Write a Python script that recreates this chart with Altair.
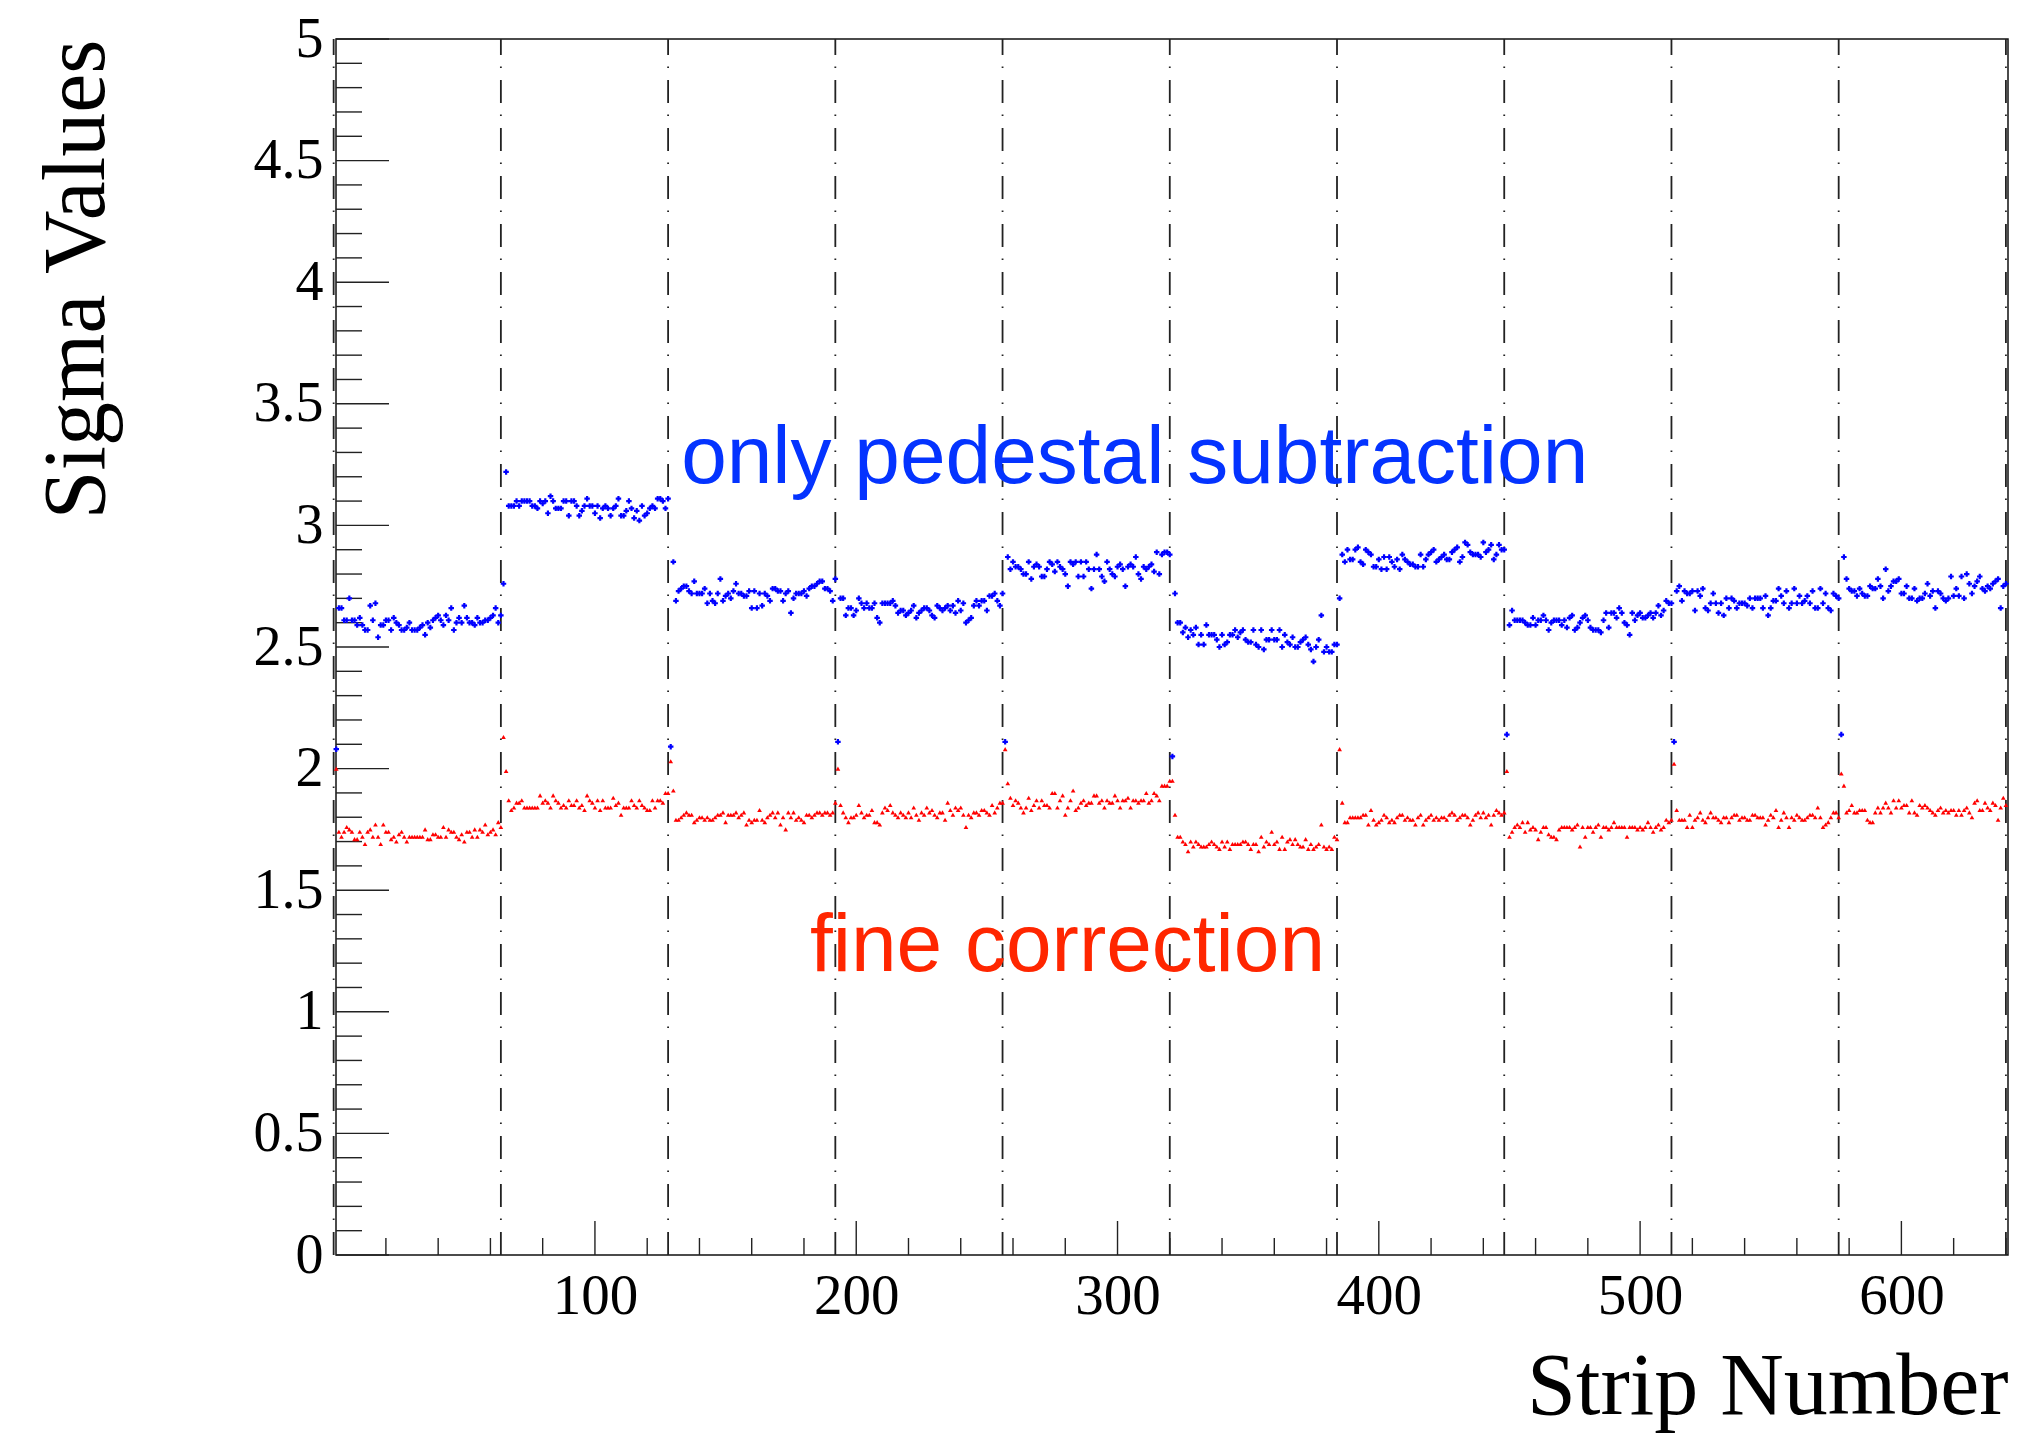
import altair as alt
import pandas as pd

# ---------------- data ----------------
# 10 chips x 64 strips; strip number = 64*chip + index + 1
blue_g1 = [2.08, 2.66, 2.66, 2.61, 2.61, 2.70, 2.61, 2.61,
           2.59, 2.62, 2.59, 2.57, 2.57, 2.67, 2.61, 2.68,
           2.54, 2.59, 2.59, 2.61, 2.61, 2.57, 2.62, 2.60,
           2.59, 2.57, 2.57, 2.58, 2.60, 2.57, 2.57, 2.57,
           2.58, 2.59, 2.55, 2.60, 2.58, 2.61, 2.62, 2.63,
           2.61, 2.59, 2.63, 2.61, 2.66, 2.57, 2.60, 2.62,
           2.60, 2.67, 2.62, 2.60, 2.60, 2.59, 2.62, 2.60,
           2.60, 2.61, 2.61, 2.62, 2.63, 2.66, 2.60, 2.63]
red_g1 = [2.00, 1.74, 1.72, 1.74, 1.76, 1.75, 1.74, 1.71,
          1.71, 1.74, 1.72, 1.69, 1.74, 1.75, 1.72, 1.77,
          1.72, 1.69, 1.77, 1.74, 1.74, 1.71, 1.72, 1.70,
          1.73, 1.74, 1.72, 1.70, 1.72, 1.72, 1.72, 1.72,
          1.72, 1.72, 1.75, 1.71, 1.71, 1.73, 1.73, 1.72,
          1.72, 1.76, 1.72, 1.75, 1.74, 1.74, 1.72, 1.71,
          1.73, 1.70, 1.74, 1.74, 1.72, 1.75, 1.72, 1.75,
          1.74, 1.77, 1.73, 1.74, 1.75, 1.73, 1.78, 1.76]
blue_g2 = [2.76, 3.22, 3.08, 3.08, 3.08, 3.10, 3.08, 3.10,
           3.10, 3.10, 3.10, 3.08, 3.08, 3.07, 3.10, 3.09,
           3.10, 3.05, 3.12, 3.10, 3.07, 3.07, 3.07, 3.10,
           3.10, 3.04, 3.10, 3.10, 3.08, 3.04, 3.06, 3.08,
           3.11, 3.08, 3.08, 3.05, 3.08, 3.03, 3.07, 3.08,
           3.07, 3.04, 3.07, 3.08, 3.11, 3.04, 3.04, 3.06,
           3.10, 3.07, 3.03, 3.06, 3.02, 3.08, 3.04, 3.05,
           3.07, 3.08, 3.07, 3.11, 3.11, 3.10, 3.07, 3.11]
red_g2 = [2.13, 1.99, 1.87, 1.83, 1.84, 1.86, 1.86, 1.87,
          1.84, 1.84, 1.84, 1.84, 1.84, 1.84, 1.89, 1.86,
          1.87, 1.86, 1.84, 1.89, 1.87, 1.86, 1.84, 1.85,
          1.84, 1.87, 1.85, 1.85, 1.87, 1.84, 1.85, 1.83,
          1.89, 1.87, 1.86, 1.84, 1.87, 1.83, 1.87, 1.84,
          1.84, 1.84, 1.88, 1.85, 1.86, 1.81, 1.84, 1.84,
          1.84, 1.87, 1.85, 1.84, 1.87, 1.85, 1.84, 1.83,
          1.83, 1.87, 1.84, 1.87, 1.87, 1.86, 1.90, 1.90]
blue_g3 = [2.09, 2.85, 2.69, 2.73, 2.74, 2.75, 2.75, 2.73,
           2.72, 2.77, 2.72, 2.72, 2.72, 2.74, 2.68, 2.72,
           2.69, 2.68, 2.72, 2.78, 2.69, 2.71, 2.72, 2.70,
           2.73, 2.76, 2.72, 2.72, 2.71, 2.71, 2.73, 2.66,
           2.73, 2.66, 2.72, 2.67, 2.72, 2.71, 2.69, 2.74,
           2.74, 2.73, 2.73, 2.69, 2.72, 2.73, 2.64, 2.70,
           2.72, 2.72, 2.72, 2.73, 2.71, 2.74, 2.75, 2.75,
           2.76, 2.77, 2.77, 2.74, 2.74, 2.73, 2.69, 2.78]
red_g3 = [2.03, 1.91, 1.79, 1.79, 1.80, 1.81, 1.82, 1.81,
          1.81, 1.78, 1.79, 1.80, 1.80, 1.79, 1.80, 1.79,
          1.79, 1.80, 1.81, 1.81, 1.82, 1.78, 1.81, 1.81,
          1.81, 1.82, 1.80, 1.81, 1.82, 1.77, 1.79, 1.78,
          1.79, 1.79, 1.83, 1.79, 1.78, 1.80, 1.81, 1.82,
          1.80, 1.82, 1.77, 1.80, 1.75, 1.82, 1.80, 1.82,
          1.79, 1.80, 1.79, 1.78, 1.81, 1.81, 1.80, 1.81,
          1.82, 1.82, 1.81, 1.82, 1.82, 1.81, 1.82, 1.86]
blue_g4 = [2.11, 2.70, 2.70, 2.63, 2.66, 2.66, 2.63, 2.65,
           2.70, 2.68, 2.66, 2.68, 2.66, 2.66, 2.68, 2.62,
           2.60, 2.68, 2.68, 2.68, 2.68, 2.69, 2.67, 2.64,
           2.65, 2.65, 2.63, 2.64, 2.65, 2.67, 2.62, 2.64,
           2.65, 2.66, 2.66, 2.65, 2.63, 2.62, 2.67, 2.66,
           2.65, 2.66, 2.67, 2.65, 2.67, 2.64, 2.69, 2.65,
           2.68, 2.60, 2.61, 2.62, 2.67, 2.69, 2.67, 2.69,
           2.69, 2.65, 2.71, 2.71, 2.72, 2.69, 2.67, 2.72]
red_g4 = [2.00, 1.85, 1.82, 1.80, 1.78, 1.80, 1.80, 1.81,
          1.85, 1.82, 1.80, 1.81, 1.81, 1.83, 1.78, 1.78,
          1.77, 1.82, 1.84, 1.83, 1.85, 1.82, 1.81, 1.80,
          1.82, 1.81, 1.80, 1.82, 1.80, 1.84, 1.81, 1.79,
          1.82, 1.81, 1.84, 1.82, 1.83, 1.81, 1.80, 1.82,
          1.82, 1.79, 1.86, 1.83, 1.81, 1.84, 1.83, 1.84,
          1.81, 1.76, 1.81, 1.80, 1.82, 1.82, 1.81, 1.83,
          1.83, 1.82, 1.81, 1.85, 1.82, 1.84, 1.86, 1.86]
blue_g5 = [2.11, 2.87, 2.82, 2.85, 2.83, 2.83, 2.82, 2.80,
           2.80, 2.85, 2.78, 2.83, 2.84, 2.83, 2.79, 2.79,
           2.82, 2.85, 2.84, 2.81, 2.85, 2.83, 2.82, 2.80,
           2.75, 2.85, 2.84, 2.85, 2.79, 2.85, 2.79, 2.85,
           2.82, 2.74, 2.82, 2.88, 2.82, 2.79, 2.77, 2.85,
           2.82, 2.80, 2.79, 2.83, 2.84, 2.82, 2.75, 2.83,
           2.84, 2.83, 2.87, 2.80, 2.78, 2.83, 2.82, 2.83,
           2.84, 2.81, 2.89, 2.80, 2.88, 2.89, 2.89, 2.88]
red_g5 = [2.08, 1.94, 1.88, 1.85, 1.87, 1.86, 1.84, 1.82,
          1.84, 1.88, 1.83, 1.85, 1.87, 1.84, 1.87, 1.85,
          1.85, 1.84, 1.90, 1.90, 1.84, 1.87, 1.89, 1.81,
          1.84, 1.87, 1.91, 1.83, 1.84, 1.86, 1.87, 1.85,
          1.86, 1.86, 1.89, 1.89, 1.86, 1.87, 1.84, 1.87,
          1.86, 1.86, 1.89, 1.87, 1.84, 1.87, 1.87, 1.88,
          1.84, 1.87, 1.87, 1.86, 1.87, 1.87, 1.90, 1.86,
          1.87, 1.90, 1.89, 1.87, 1.93, 1.93, 1.93, 1.95]
blue_g6 = [2.05, 2.72, 2.60, 2.60, 2.56, 2.58, 2.54, 2.57,
           2.55, 2.58, 2.51, 2.55, 2.51, 2.59, 2.55, 2.55,
           2.55, 2.53, 2.50, 2.55, 2.51, 2.52, 2.55, 2.55,
           2.57, 2.54, 2.56, 2.57, 2.53, 2.52, 2.52, 2.57,
           2.51, 2.50, 2.57, 2.49, 2.53, 2.53, 2.57, 2.53,
           2.53, 2.57, 2.50, 2.55, 2.52, 2.51, 2.54, 2.50,
           2.50, 2.52, 2.53, 2.54, 2.51, 2.49, 2.44, 2.50,
           2.53, 2.63, 2.48, 2.50, 2.48, 2.48, 2.51, 2.51]
red_g6 = [1.95, 1.81, 1.72, 1.72, 1.70, 1.69, 1.66, 1.70,
          1.68, 1.70, 1.69, 1.68, 1.68, 1.68, 1.69, 1.70,
          1.69, 1.68, 1.67, 1.70, 1.68, 1.70, 1.67, 1.69,
          1.69, 1.69, 1.69, 1.70, 1.70, 1.69, 1.67, 1.69,
          1.69, 1.66, 1.72, 1.68, 1.70, 1.69, 1.74, 1.69,
          1.70, 1.67, 1.72, 1.67, 1.70, 1.71, 1.69, 1.71,
          1.69, 1.68, 1.68, 1.71, 1.67, 1.69, 1.67, 1.68,
          1.69, 1.77, 1.68, 1.67, 1.68, 1.67, 1.72, 1.71]
blue_g7 = [2.70, 2.88, 2.85, 2.90, 2.86, 2.86, 2.90, 2.91,
           2.85, 2.84, 2.90, 2.89, 2.88, 2.83, 2.83, 2.86,
           2.82, 2.87, 2.82, 2.87, 2.85, 2.83, 2.86, 2.82,
           2.88, 2.86, 2.85, 2.84, 2.84, 2.83, 2.83, 2.88,
           2.83, 2.86, 2.88, 2.89, 2.90, 2.85, 2.86, 2.87,
           2.88, 2.86, 2.86, 2.89, 2.90, 2.91, 2.85, 2.87,
           2.93, 2.92, 2.89, 2.88, 2.88, 2.88, 2.87, 2.93,
           2.89, 2.90, 2.92, 2.86, 2.88, 2.92, 2.90, 2.90]
red_g7 = [2.08, 1.86, 1.78, 1.78, 1.80, 1.80, 1.80, 1.80,
          1.80, 1.81, 1.81, 1.77, 1.83, 1.79, 1.77, 1.78,
          1.79, 1.81, 1.80, 1.78, 1.79, 1.78, 1.80, 1.81,
          1.81, 1.79, 1.80, 1.79, 1.79, 1.77, 1.80, 1.81,
          1.77, 1.79, 1.80, 1.81, 1.79, 1.80, 1.79, 1.80,
          1.80, 1.79, 1.81, 1.82, 1.81, 1.79, 1.80, 1.81,
          1.81, 1.80, 1.77, 1.79, 1.81, 1.82, 1.80, 1.82,
          1.80, 1.81, 1.77, 1.81, 1.83, 1.82, 1.81, 1.82]
blue_g8 = [2.14, 2.59, 2.65, 2.61, 2.61, 2.61, 2.61, 2.60,
           2.59, 2.59, 2.62, 2.59, 2.61, 2.61, 2.63, 2.61,
           2.57, 2.60, 2.61, 2.61, 2.61, 2.59, 2.61, 2.58,
           2.62, 2.63, 2.57, 2.58, 2.60, 2.62, 2.63, 2.61,
           2.58, 2.57, 2.57, 2.57, 2.56, 2.61, 2.64, 2.58,
           2.64, 2.64, 2.62, 2.66, 2.64, 2.60, 2.59, 2.55,
           2.64, 2.61, 2.63, 2.64, 2.62, 2.62, 2.63, 2.64,
           2.62, 2.64, 2.67, 2.63, 2.65, 2.69, 2.68, 2.68]
red_g8 = [1.99, 1.72, 1.74, 1.76, 1.77, 1.76, 1.78, 1.74,
          1.78, 1.75, 1.76, 1.75, 1.71, 1.74, 1.76, 1.76,
          1.73, 1.72, 1.72, 1.71, 1.75, 1.76, 1.76, 1.76,
          1.76, 1.75, 1.76, 1.77, 1.68, 1.76, 1.72, 1.76,
          1.76, 1.74, 1.76, 1.77, 1.72, 1.76, 1.76, 1.75,
          1.76, 1.78, 1.76, 1.76, 1.76, 1.76, 1.72, 1.76,
          1.76, 1.76, 1.75, 1.76, 1.75, 1.76, 1.78, 1.76,
          1.74, 1.76, 1.77, 1.75, 1.76, 1.79, 1.78, 1.79]
blue_g9 = [2.11, 2.73, 2.75, 2.69, 2.73, 2.72, 2.72, 2.73,
           2.65, 2.73, 2.71, 2.74, 2.66, 2.65, 2.68, 2.72,
           2.68, 2.64, 2.68, 2.63, 2.70, 2.66, 2.70, 2.69,
           2.66, 2.68, 2.68, 2.68, 2.67, 2.70, 2.66, 2.70,
           2.70, 2.70, 2.66, 2.71, 2.63, 2.66, 2.69, 2.69,
           2.74, 2.71, 2.68, 2.73, 2.66, 2.68, 2.74, 2.68,
           2.71, 2.68, 2.69, 2.71, 2.68, 2.73, 2.66, 2.66,
           2.74, 2.68, 2.72, 2.66, 2.65, 2.72, 2.71, 2.70]
red_g9 = [2.02, 1.83, 1.79, 1.79, 1.79, 1.76, 1.81, 1.76,
          1.79, 1.80, 1.82, 1.79, 1.78, 1.80, 1.82, 1.80,
          1.80, 1.79, 1.78, 1.80, 1.80, 1.78, 1.80, 1.81,
          1.81, 1.79, 1.80, 1.80, 1.79, 1.79, 1.81, 1.81,
          1.80, 1.80, 1.80, 1.77, 1.79, 1.81, 1.80, 1.83,
          1.76, 1.79, 1.82, 1.80, 1.76, 1.80, 1.79, 1.81,
          1.80, 1.79, 1.79, 1.80, 1.81, 1.81, 1.80, 1.84,
          1.80, 1.76, 1.77, 1.78, 1.80, 1.82, 1.82, 1.80]
blue_g10 = [2.14, 2.87, 2.78, 2.74, 2.73, 2.73, 2.71, 2.74,
            2.72, 2.71, 2.71, 2.75, 2.74, 2.74, 2.78, 2.75,
            2.70, 2.82, 2.73, 2.75, 2.77, 2.77, 2.78, 2.72,
            2.72, 2.75, 2.70, 2.70, 2.74, 2.69, 2.70, 2.70,
            2.72, 2.76, 2.71, 2.73, 2.66, 2.73, 2.72, 2.70,
            2.69, 2.70, 2.79, 2.71, 2.74, 2.71, 2.79, 2.70,
            2.80, 2.76, 2.72, 2.75, 2.77, 2.79, 2.74, 2.73,
            2.75, 2.74, 2.76, 2.77, 2.78, 2.66, 2.75, 2.76]
red_g10 = [1.98, 1.93, 1.82, 1.83, 1.85, 1.82, 1.82, 1.83,
           1.83, 1.83, 1.79, 1.78, 1.78, 1.82, 1.84, 1.82,
           1.84, 1.86, 1.84, 1.82, 1.87, 1.84, 1.87, 1.84,
           1.85, 1.85, 1.82, 1.87, 1.82, 1.81, 1.85, 1.84,
           1.85, 1.84, 1.83, 1.82, 1.81, 1.83, 1.84, 1.82,
           1.83, 1.82, 1.83, 1.83, 1.81, 1.83, 1.81, 1.83,
           1.84, 1.82, 1.80, 1.86, 1.87, 1.83, 1.83, 1.86,
           1.84, 1.83, 1.86, 1.85, 1.79, 1.84, 1.88, 1.85]

blue_groups = [blue_g1, blue_g2, blue_g3, blue_g4, blue_g5,
               blue_g6, blue_g7, blue_g8, blue_g9, blue_g10]
red_groups = [red_g1, red_g2, red_g3, red_g4, red_g5,
              red_g6, red_g7, red_g8, red_g9, red_g10]

chip_edges = [0, 64, 128, 192, 256, 320, 384, 448, 512, 576, 640]
x_major = [100, 200, 300, 400, 500, 600]
x_minor = [v for v in range(20, 641, 20) if v % 100]
y_major = [0, 0.5, 1, 1.5, 2, 2.5, 3, 3.5, 4, 4.5, 5]
y_minor = [round(i * 0.1, 1) for i in range(1, 50) if i % 5]

ann_text = ["only pedestal subtraction", "fine correction"]
ann_x = [133.0, 182.3]
ann_y = [3.174, 1.168]
ann_color = ["#0433FF", "#FF2600"]

# ---------------- tables ----------------
blue_rows, red_rows = [], []
for g, (bl, rd) in enumerate(zip(blue_groups, red_groups)):
    for i, v in enumerate(bl):
        blue_rows.append({"strip": 64 * g + i + 1, "sigma": v})
    for i, v in enumerate(rd):
        red_rows.append({"strip": 64 * g + i + 1, "sigma": v})
blue_df = pd.DataFrame(blue_rows)
red_df = pd.DataFrame(red_rows)
edges_df = pd.DataFrame({"x": chip_edges, "y0": 0, "y1": 5})
ann_df = pd.DataFrame({"x": ann_x, "y": ann_y, "t": ann_text, "c": ann_color})
xmaj_df = pd.DataFrame({"x": x_major})
xmin_df = pd.DataFrame({"x": x_minor})
ymaj_df = pd.DataFrame({"y": y_major})
ymin_df = pd.DataFrame({"y": y_minor})

# ---------------- chart ----------------
W, H = 1672, 1216
SERIF = "Liberation Serif"
xs = alt.Scale(domain=[0.9, 640.8], nice=False, zero=False)
ys = alt.Scale(domain=[0, 5], nice=False, zero=False)

x_axis = alt.Axis(values=x_major, format="d", labelFont=SERIF, labelFontSize=57,
                  labelColor="black", labelPadding=13, ticks=False, tickSize=0,
                  domain=False, grid=False, labelFlush=False, labelOverlap=False,
                  labelBaseline="top",
                  title="Strip Number", titleFont=SERIF, titleFontSize=88,
                  titleFontWeight="normal", titleColor="black", titleAlign="right",
                  titleBaseline="alphabetic", titleX=W, titleY=158)
y_axis = alt.Axis(values=y_major, format="~g", labelFont=SERIF, labelFontSize=56,
                  labelColor="black", labelPadding=13, ticks=False, tickSize=0,
                  domain=False, grid=False, labelFlush=False, labelOverlap=False,
                  labelAlign="right", labelBaseline="middle",
                  title="Sigma Values", titleFont=SERIF, titleFontSize=88,
                  titleFontWeight="normal", titleColor="black", titleAngle=270,
                  titleAlign="right", titleBaseline="alphabetic", titleX=-233, titleY=0)

X = lambda f: alt.X(f, type="quantitative", scale=xs, axis=x_axis)
Y = lambda f: alt.Y(f, type="quantitative", scale=ys, axis=y_axis)

edges = alt.Chart(edges_df).mark_rule(
    color="#222222", strokeWidth=1.8, strokeDash=[23, 12, 1.5, 11.5]
).encode(x=X("x"), y=Y("y0"), y2="y1")

tick_style = dict(color="#222222", strokeWidth=1.4)
xmaj = alt.Chart(xmaj_df).mark_rule(**tick_style).encode(
    x=X("x"), y=alt.value(H), y2=alt.value(H - 34))
xmin = alt.Chart(xmin_df).mark_rule(**tick_style).encode(
    x=X("x"), y=alt.value(H), y2=alt.value(H - 17))
ymaj = alt.Chart(ymaj_df).mark_rule(**tick_style).encode(
    y=Y("y"), x=alt.value(0), x2=alt.value(53))
ymin = alt.Chart(ymin_df).mark_rule(**tick_style).encode(
    y=Y("y"), x=alt.value(0), x2=alt.value(26))

blue_pts = alt.Chart(blue_df).mark_point(
    shape="cross", filled=True, size=30, color="#0000FF", opacity=1
).encode(x=X("strip"), y=Y("sigma"))
red_pts = alt.Chart(red_df).mark_point(
    shape="triangle-up", filled=True, size=22, color="#FF0000", opacity=1
).encode(x=X("strip"), y=Y("sigma"))

ann = alt.Chart(ann_df).mark_text(
    align="left", baseline="alphabetic", font="Liberation Sans", fontSize=82
).encode(x=X("x"), y=Y("y"), text="t:N", color=alt.Color("c:N", scale=None))

chart = alt.layer(edges, xmaj, xmin, ymaj, ymin, blue_pts, red_pts, ann).properties(
    width=W, height=H,
    autosize=alt.AutoSizeParams(type="none"),
    padding={"left": 328, "top": 31, "right": 20, "bottom": 178},
    background="white",
).configure_view(stroke="#111111", strokeWidth=1.5)

chart.save("out.html", embed_options={"renderer": "svg", "actions": False})
